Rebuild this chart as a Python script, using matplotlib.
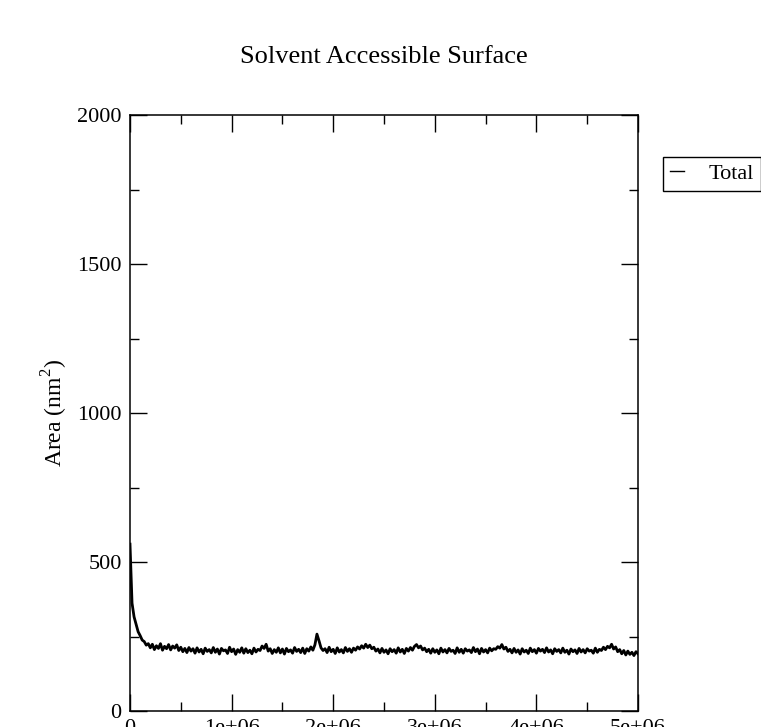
import numpy as np
import matplotlib
matplotlib.use("Agg")
import matplotlib.pyplot as plt

plt.rcParams['font.family'] = ['Liberation Serif', 'DejaVu Serif']
plt.rcParams['mathtext.fontset'] = 'custom'
plt.rcParams['mathtext.rm'] = 'Liberation Serif'

# sampling grid of the trajectory (ps), one frame every 2e4
time = np.arange(0, 5.0e6 + 1, 2.0e4)

# total solvent accessible surface (nm^2)
area = [560, 362, 316, 291, 266, 253, 238, 233, 221, 226,
        212, 224, 206, 219, 210, 226, 204, 217, 209, 223,
        205, 218, 211, 222, 203, 214, 199, 210, 196, 213,
        201, 209, 194, 212, 198, 207, 192, 211, 200, 206,
        195, 213, 197, 208, 191, 210, 202, 205, 193, 214,
        199, 208, 190, 206, 197, 212, 194, 209, 196, 204,
        192, 211, 198, 207, 203, 218, 210, 224, 201, 209,
        193, 206, 197, 212, 195, 208, 191, 210, 199, 205,
        194, 213, 200, 207, 196, 211, 193, 209, 201, 215,
        204, 222, 258, 236, 212, 203, 209, 196, 214, 199,
        207, 193, 212, 198, 206, 195, 213, 200, 209, 197,
        211, 204, 215, 208, 219, 211, 224, 213, 221, 209,
        214, 201, 208, 195, 210, 197, 205, 192, 209, 199,
        206, 194, 212, 198, 207, 193, 210, 201, 213, 204,
        217, 223, 212, 218, 205, 211, 199, 207, 194, 209,
        197, 205, 192, 211, 198, 206, 195, 210, 200, 204,
        193, 212, 197, 207, 194, 209, 201, 205, 196, 213,
        199, 208, 192, 210, 198, 206, 195, 211, 202, 209,
        207, 216, 211, 223, 208, 214, 200, 207, 195, 210,
        197, 205, 191, 209, 198, 204, 193, 211, 199, 206,
        194, 210, 201, 207, 196, 212, 198, 205, 192, 209,
        200, 206, 195, 211, 197, 204, 191, 208, 199, 205,
        193, 210, 198, 206, 195, 209, 201, 204, 194, 211,
        197, 207, 203, 214, 206, 217, 212, 224, 208, 215,
        199, 206, 192, 203, 188, 201, 190, 197, 186, 199, 192]

xticks = [0, 1e6, 2e6, 3e6, 4e6, 5e6]
xtick_labels = ["0", "1e+06", "2e+06", "3e+06", "4e+06", "5e+06"]
yticks = [0, 500, 1000, 1500, 2000]

fig = plt.figure(figsize=(7.61, 7.27), dpi=100)
ax = fig.add_axes([130/761, 16/727, 508/761, 596/727])

ax.plot(time, area, color="black", lw=2.0, label="Total")

ax.set_xlim(0, 5e6)
ax.set_ylim(0, 2000)
ax.set_xticks(xticks)
ax.set_xticklabels(xtick_labels)
ax.set_yticks(yticks)
ax.set_xticks(np.array(xticks[:-1]) + 5e5, minor=True)
ax.set_yticks(np.array(yticks[:-1]) + 250, minor=True)
ax.tick_params(which="both", direction="in", top=True, right=True,
               labelsize=16, width=1.0, pad=6)
ax.tick_params(which="major", length=12)
ax.tick_params(which="minor", length=6.5)
for s in ax.spines.values():
    s.set_linewidth(1.1)

ax.set_ylabel("Area (nm$^2$)", fontsize=17, labelpad=5)

fig.text(384/761, 1 - 63/727, "Solvent Accessible Surface",
         ha="center", va="baseline", fontsize=19)

leg = fig.legend(loc="upper left", bbox_to_anchor=(663/761, 1 - 157/727),
                 fontsize=16, handlelength=0.65, handletextpad=1.1,
                 borderpad=0.3, borderaxespad=0, fancybox=False, framealpha=1)
leg.get_frame().set_edgecolor("black")
leg.get_frame().set_linewidth(1.0)
for h in leg.get_lines():
    h.set_linewidth(1.0)

plt.savefig("out.png", dpi=100)
